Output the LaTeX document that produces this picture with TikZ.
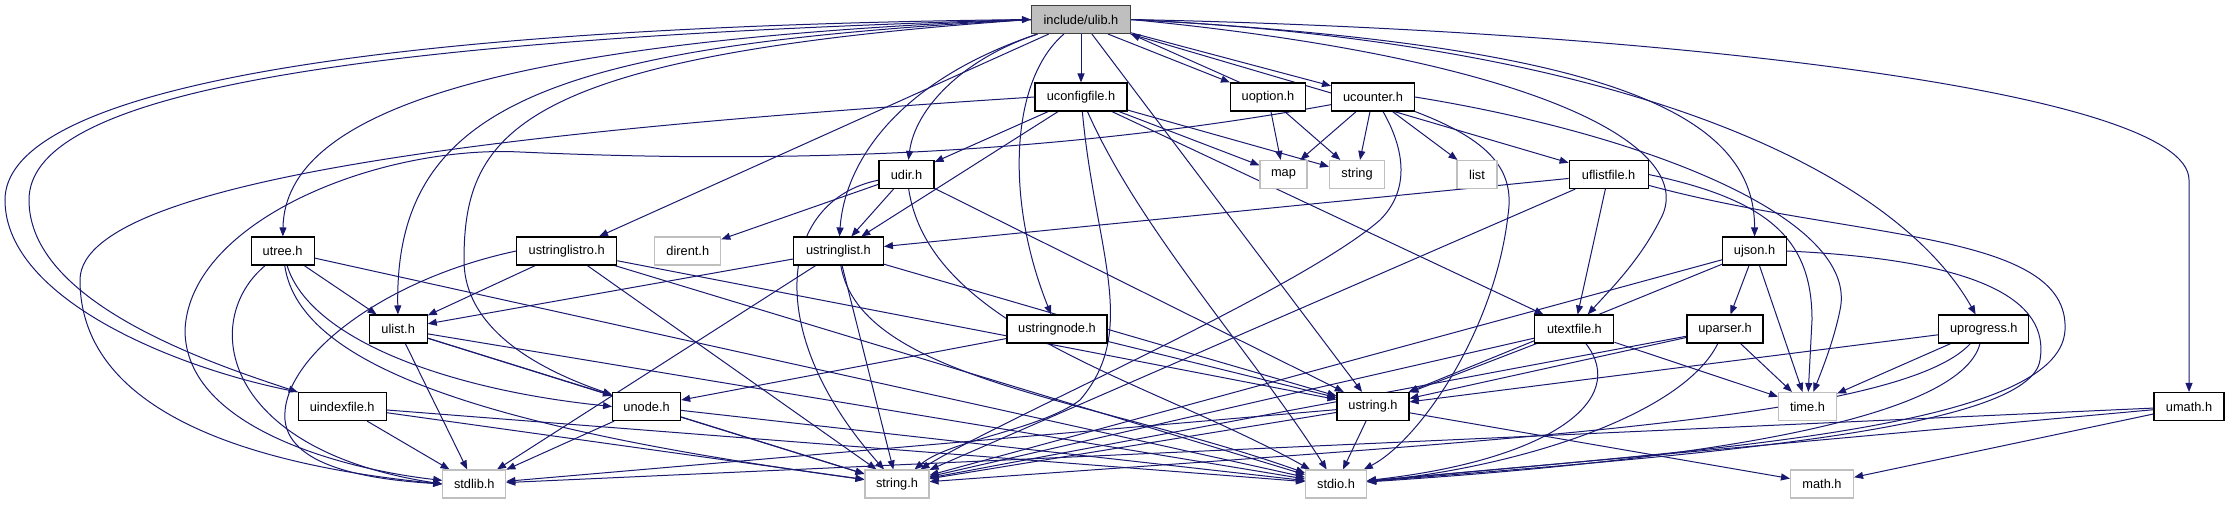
\documentclass[tikz,border=0pt]{standalone}
\usepackage{fontspec}
\setmainfont{Liberation Sans}
\usetikzlibrary{arrows.meta}
\definecolor{navy}{HTML}{191970}
\definecolor{sysgrey}{HTML}{BFBFBF}
\pgfdeclarelayer{bg}
\pgfsetlayers{bg,main}
\begin{document}
\begin{tikzpicture}[x=1pt,y=-1pt,
  every node/.style={font=\fontsize{12.8pt}{14pt}\selectfont, minimum height=28pt, inner sep=0pt},
  hbox/.style={draw=black, line width=1.1pt, fill=white},
  sbox/.style={draw=sysgrey, line width=1.1pt, fill=white},
  rbox/.style={draw=black!75, line width=1.1pt, fill=sysgrey},
  inc/.style={draw=navy, line width=1pt, -{Triangle[length=9pt,width=7pt]}, fill=none}]
\useasboundingbox (0,0) rectangle (2229,504);
\begin{pgfonlayer}{bg}
\fill[white] (0,0) rectangle (2229,504);
\end{pgfonlayer}
% nodes
\node[rbox, minimum width=99pt] (ulib) at (1081,19.5) {include/ulib.h};
\node[hbox, minimum width=92pt] (ucfg) at (1081,97) {uconfigfile.h};
\node[hbox, minimum width=75pt] (uopt) at (1268,97) {uoption.h};
\node[hbox, minimum width=83pt] (ucnt) at (1373,97) {ucounter.h};
\node[sbox, minimum width=47pt] (map) at (1283.5,174.5) {map};
\node[sbox, minimum width=55pt] (strg) at (1357,174.5) {string};
\node[sbox, minimum width=40pt] (list) at (1477,174.5) {list};
\node[hbox, minimum width=55pt] (udir) at (906.5,174.5) {udir.h};
\node[hbox, minimum width=79pt] (uflist) at (1608.6,174.5) {uflistfile.h};
\node[hbox, minimum width=63pt] (utree) at (282.6,251) {utree.h};
\node[hbox, minimum width=100pt] (uslro) at (566.7,251) {ustringlistro.h};
\node[sbox, minimum width=66pt] (dirent) at (687.8,251) {dirent.h};
\node[hbox, minimum width=90pt] (uslist) at (838.4,251) {ustringlist.h};
\node[hbox, minimum width=64pt] (ujson) at (1754.5,251) {ujson.h};
\node[hbox, minimum width=58pt] (ulist) at (398.2,329) {ulist.h};
\node[hbox, minimum width=100pt] (usnode) at (1057,329) {ustringnode.h};
\node[hbox, minimum width=79pt] (utext) at (1574.4,329) {utextfile.h};
\node[hbox, minimum width=76pt] (upars) at (1725,329) {uparser.h};
\node[hbox, minimum width=90pt] (uprog) at (1983.8,329) {uprogress.h};
\node[hbox, minimum width=88pt] (uidx) at (342.2,406.5) {uindexfile.h};
\node[hbox, minimum width=68pt] (unode) at (646.6,406.5) {unode.h};
\node[hbox, minimum width=72pt] (ustr) at (1373,406.5) {ustring.h};
\node[sbox, minimum width=58pt] (timeh) at (1807.5,406.5) {time.h};
\node[hbox, minimum width=70pt] (umath) at (2189,406.5) {umath.h};
\node[sbox, minimum width=63pt] (stdlib) at (474.3,484) {stdlib.h};
\node[sbox, minimum width=64pt] (strh) at (897,484) {string.h};
\node[sbox, minimum width=61pt] (stdio) at (1336,484) {stdio.h};
\node[sbox, minimum width=63pt] (mathh) at (1822,484) {math.h};
\begin{pgfonlayer}{bg}
% ulib edges
\draw[inc] (ulib) -- (ucfg);
\draw[inc] ([xshift=27pt]ulib.south) -- (uopt.north west);
\draw[inc] ([xshift=10pt]uopt.north west) -- (ulib.south east);
\draw[inc] (ulib) -- (ucnt);
\draw[inc] (ulib) .. controls (960,60) and (915,110) .. (udir);
\draw[inc] (ulib) .. controls (900,80) and (845,160) .. (uslist);
\draw[inc] (ulib.west) .. controls (500,40) and (285,110) .. (utree);
\draw[inc] (ulib) -- (uslro);
\draw[inc] (ulib.west) .. controls (560,45) and (394,100) .. (ulist);
\draw[inc] (ulib.west) .. controls (520,55) and (464,130) .. (464,260) .. controls (464,330) and (540,370) .. (unode);
\draw[inc] (ulib.west) .. controls (300,40) and (29,100) .. (29,200) .. controls (29,300) and (200,360) .. (uidx.north west);
\draw[inc] (uidx.north west) .. controls (180,370) and (5,300) .. (5,200) .. controls (5,100) and (300,28) .. (ulib.west);
\draw[inc] (ulib) .. controls (1010,80) and (1005,200) .. (usnode);
\draw[inc] (ulib) -- (ustr);
\draw[inc] (ulib) -- (uflist);
\draw[inc] (ulib.east) .. controls (1550,60) and (1700,150) .. (1660,220) .. controls (1640,260) and (1610,290) .. (utext);
\draw[inc] (ulib.east) .. controls (1600,45) and (1755,110) .. (ujson);
\draw[inc] (ulib.east) .. controls (1650,45) and (1900,180) .. (uprog);
\draw[inc] (ulib.east) .. controls (1650,30) and (2189,90) .. (2189,180) -- (umath);
% uoption
\draw[inc] (uopt) -- (map);
\draw[inc] (uopt) -- (strg);
% ucounter
\draw[inc] (ucnt) -- (map);
\draw[inc] (ucnt) -- (strg);
\draw[inc] (ucnt) -- (list);
\draw[inc] (ucnt) .. controls (1000,165) and (700,160) .. (520,152) .. controls (380,145) and (190,220) .. (185,330) .. controls (185,430) and (350,470) .. (stdlib);
\draw[inc] ([xshift=10pt]ucnt.south) .. controls (1405,150) and (1410,190) .. (1380,220) .. controls (1300,290) and (1000,420) .. (strh);
\draw[inc] (ucnt.south east) .. controls (1490,140) and (1515,170) .. (1508,215) .. controls (1495,330) and (1420,440) .. (stdio);
\draw[inc] (ucnt.east) .. controls (1650,135) and (1860,220) .. (1840,310) .. controls (1834,340) and (1822,370) .. (timeh);
% uconfigfile
\draw[inc] (ucfg.west) .. controls (600,125) and (80,170) .. (80,280) .. controls (80,430) and (300,470) .. (stdlib.west);
\draw[inc] (ucfg) -- (udir);
\draw[inc] (ucfg) -- (uslist);
\draw[inc] (ucfg) .. controls (1095,250) and (1140,330) .. (1080,400) .. controls (1040,430) and (950,440) .. (strh);
\draw[inc] (ucfg) .. controls (1140,230) and (1250,350) .. (stdio);
\draw[inc] (ucfg) -- (utext);
\draw[inc] (ucfg) -- (map);
\draw[inc] (ucfg) -- (strg);
% udir
\draw[inc] (udir) -- (dirent);
\draw[inc] (udir) -- (uslist);
\draw[inc] (udir) -- (ustr);
\draw[inc] (udir) .. controls (780,200) and (760,330) .. (strh);
\draw[inc] (udir) .. controls (930,330) and (1150,380) .. (stdio);
% ustringlist
\draw[inc] (uslist) -- (ulist);
\draw[inc] (uslist) -- (stdlib);
\draw[inc] (uslist) -- (strh);
\draw[inc] (uslist) -- (ustr);
\draw[inc] (uslist) .. controls (860,380) and (1100,400) .. (stdio);
% ustringlistro
\draw[inc] (uslro) -- (ulist);
\draw[inc] (uslro.west) .. controls (380,280) and (280,360) .. (285,420) .. controls (290,470) and (380,480) .. (stdlib.west);
\draw[inc] (uslro) -- (strh);
\draw[inc] (uslro) -- (stdio);
\draw[inc] (uslro) -- (ustr);
% utree
\draw[inc] (utree) -- (ulist);
\draw[inc] (utree) .. controls (310,340) and (450,390) .. (unode.west);
\draw[inc] (utree) .. controls (200,320) and (220,450) .. (stdlib.west);
\draw[inc] (utree) .. controls (300,370) and (500,430) .. (strh);
\draw[inc] (utree) -- (stdio);
% ulist
\draw[inc] (ulist) -- (stdlib);
\draw[inc] (ulist) -- (unode);
\draw[inc] (ulist) -- (strh);
\draw[inc] (ulist) -- (stdio);
% unode
\draw[inc] (unode) -- (stdlib);
\draw[inc] (unode) -- (strh);
\draw[inc] (unode) -- (stdio);
% uindexfile
\draw[inc] (uidx) -- (stdlib);
\draw[inc] (uidx) -- (strh);
\draw[inc] (uidx) -- (stdio);
% ustringnode
\draw[inc] (usnode) -- (unode);
\draw[inc] (usnode) -- (ustr);
% ustring
\draw[inc] (ustr) -- (strh);
\draw[inc] (ustr) -- (stdlib);
\draw[inc] (ustr) -- (stdio);
\draw[inc] (ustr) -- (mathh);
% uflistfile
\draw[inc] (uflist) -- (uslist);
\draw[inc] (uflist) -- (utext);
\draw[inc] (uflist) -- (strh);
\draw[inc] (uflist.east) .. controls (1770,200) and (1812,240) .. (1812,320) -- (timeh);
\draw[inc] (uflist) .. controls (1850,240) and (2070,230) .. (2065,330) .. controls (2060,430) and (1700,450) .. (stdio);
% utextfile
\draw[inc] (utext) -- (ustr);
\draw[inc] (utext) -- (strh);
\draw[inc] (utext) -- (timeh);
\draw[inc] (utext) .. controls (1630,400) and (1550,460) .. (stdio);
% uparser
\draw[inc] (upars) -- (ustr);
\draw[inc] (upars) -- (strh);
\draw[inc] (upars) -- (timeh);
\draw[inc] (upars) .. controls (1680,420) and (1500,470) .. (stdio);
% ujson
\draw[inc] (ujson) -- (upars);
\draw[inc] (ujson) -- (timeh);
\draw[inc] (ujson) -- (ustr);
\draw[inc] (ujson) -- (strh);
\draw[inc] (ujson.east) .. controls (1980,260) and (2050,300) .. (2040,360) .. controls (2030,430) and (1700,455) .. (stdio);
% uprogress
\draw[inc] (uprog) -- (ustr);
\draw[inc] (uprog) -- (timeh);
\draw[inc] (uprog) .. controls (1900,420) and (1500,440) .. (strh);
\draw[inc] (uprog) .. controls (1960,420) and (1700,460) .. (stdio);
% umath
\draw[inc] (umath) -- (stdlib);
\draw[inc] (umath) -- (stdio);
\draw[inc] (umath) -- (mathh);
\end{pgfonlayer}
\end{tikzpicture}
\end{document}
